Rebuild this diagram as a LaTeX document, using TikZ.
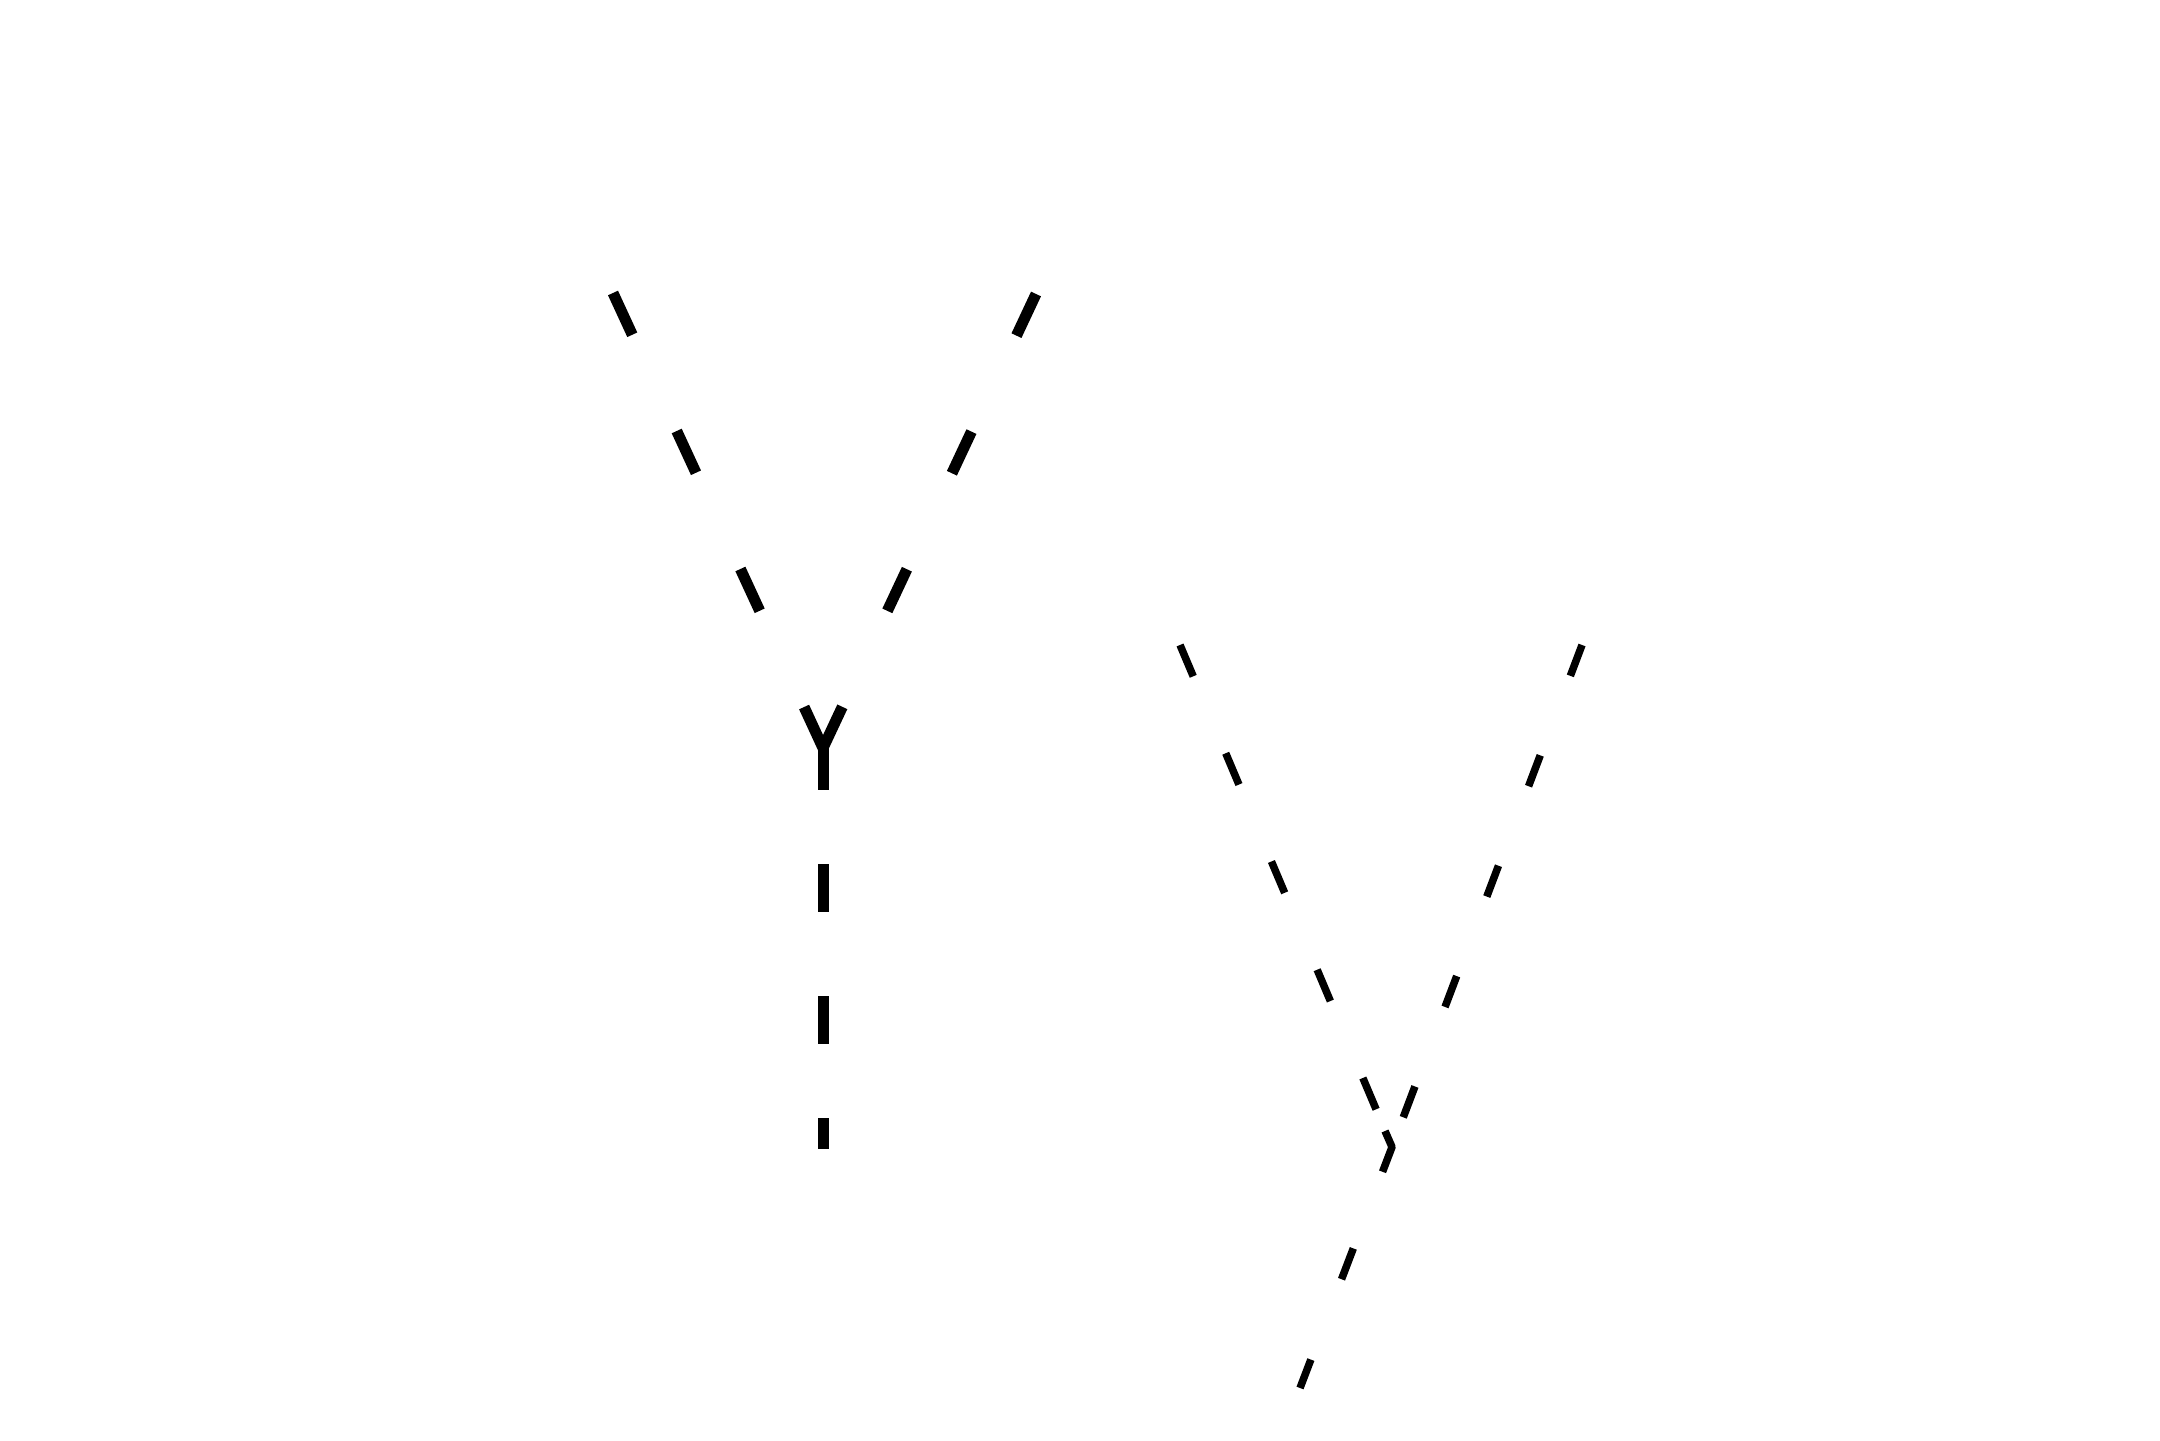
\documentclass[tikz,border=0pt]{standalone}
\usepackage{tikz}

\begin{document}
\begin{tikzpicture}[
    wideline/.style={line width=0.11cm, black},
    thinline/.style={line width=0.075cm, black}]
  % canvas
  \useasboundingbox (0,0) rectangle (21.6,14.4);

  % left fork
  \coordinate (ltop1) at (6.13, 11.47);
  \coordinate (rtop1) at (10.36, 11.46);
  \coordinate (fork1) at (8.23, 6.92);
  \coordinate (foot1) at (8.23, 2.91);
  \draw[wideline, dash pattern=on 0.46cm off 1.06cm] (ltop1) -- (fork1);
  \draw[wideline, dash pattern=on 0.46cm off 1.06cm] (rtop1) -- (fork1);
  \draw[wideline, dash pattern=on 0.48cm off 0.74cm on 0.48cm off 0.84cm,
        dash phase=0.06cm]
    (fork1) -- (foot1);

  % right fork
  \coordinate (ltop2) at (11.80, 7.95);
  \coordinate (rtop2) at (15.82, 7.95);
  \coordinate (fork2) at (13.92, 2.93);
  \coordinate (bend2) at (13.85, 3.09);
  \coordinate (foot2) at (13.00, 0.52);
  \draw[thinline, dash pattern=on 0.34cm off 0.835cm] (ltop2) -- (fork2);
  \draw[thinline, dash pattern=on 0.33cm off 0.85cm] (rtop2) -- (fork2);
  \draw[thinline, line join=round,
        dash pattern=on 0.44cm off 0.82cm on 0.33cm off 0.86cm]
    (bend2) -- (fork2) -- (foot2);
\end{tikzpicture}
\end{document}
